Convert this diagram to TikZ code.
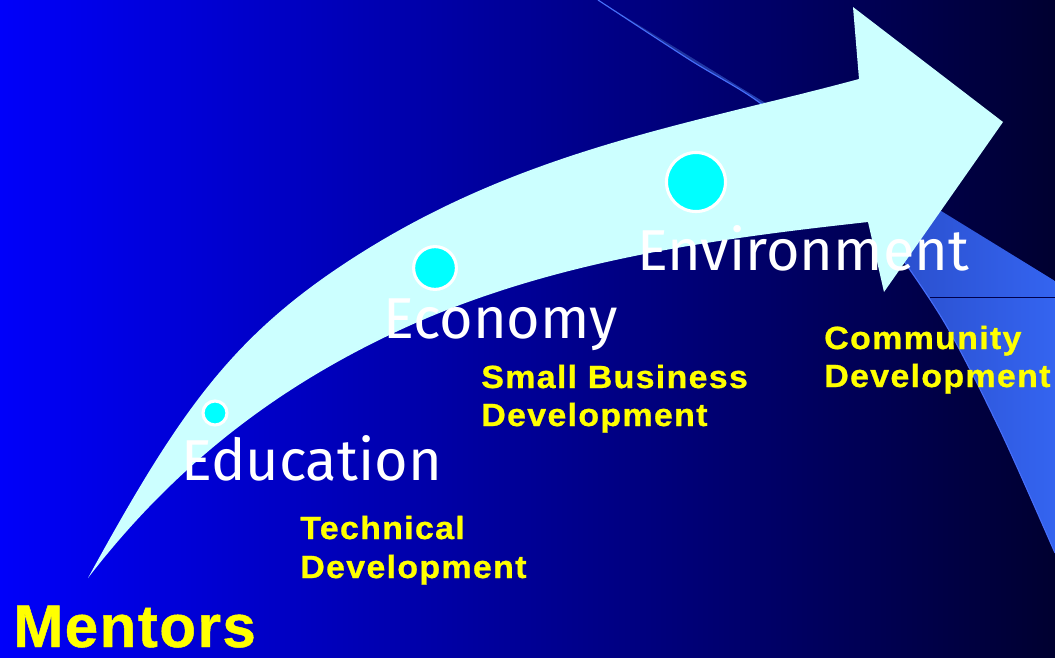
\documentclass[tikz,border=0pt]{standalone}
\usepackage{fontspec}
\setmainfont{Liberation Sans}
\newfontfamily\yfont[LetterSpace=4,FakeStretch=1.06,FakeBold=0.8]{Liberation Sans}
\newfontfamily\mfont[LetterSpace=2.5,FakeBold=0.8]{Liberation Sans}
\newfontfamily\thinfont{Fira Sans}
\definecolor{bgleft}{RGB}{0,0,250}
\definecolor{bgmid}{RGB}{0,0,165}
\definecolor{bgright}{RGB}{0,0,48}
\definecolor{bandA}{RGB}{25,40,140}
\definecolor{bandB}{RGB}{52,100,240}
\definecolor{bandedge}{RGB}{70,110,250}
\definecolor{arrowfill}{RGB}{204,255,255}
\definecolor{dotfill}{RGB}{0,255,255}
\definecolor{ytext}{RGB}{255,255,0}
\tikzset{
  dotnode/.style={circle, fill=dotfill, draw=white, line width=2.2pt, inner sep=0pt},
  whitelabel/.style={anchor=base west, inner sep=0pt, text=white, font=\thinfont\fontsize{41}{48}\selectfont},
  yellowlabel/.style={anchor=base west, inner sep=0pt, text=ytext, font=\yfont\bfseries\fontsize{22.8}{27}\selectfont},
  mentorlabel/.style={anchor=base west, inner sep=0pt, text=ytext, font=\mfont\bfseries\fontsize{42.7}{50}\selectfont},
}
\begin{document}
\begin{tikzpicture}[x=0.025cm, y=-0.025cm]
\useasboundingbox (0,0) rectangle (1055,658);
\shade[left color=bgleft, middle color=bgmid, right color=bgright] (0,0) rectangle (1055,658);
\begin{scope}
\clip (0,0) rectangle (1055,658);
% swoosh band
\shade[left color=bandA, right color=bandB]
  (598,0) -- (1055,281) -- (1055,553)
  -- plot[smooth] coordinates {(1055,553) (1000,430) (943,320) (873,218) (830,165) (760,103) (690,60) (598,0)} -- cycle;
\draw[bandedge, line width=0.8pt]
  plot[smooth] coordinates {(1055,553) (1000,430) (943,320) (873,218) (830,165) (760,103) (690,60) (598,0)};
\coordinate (lineA) at (930,297.5);
\coordinate (lineB) at (1055,297.5);
\draw[black!70!blue, line width=0.7pt] (lineA) -- (lineB);
% curved arrow
\coordinate (tail) at (88,578);
\coordinate (upmid) at (350,260);
\coordinate (upjoin) at (859,79);
\coordinate (headtop) at (853,7);
\coordinate (tip) at (1003,122);
\coordinate (headbot) at (884,292);
\coordinate (lowjoin) at (868,222);
\coordinate (lowmid) at (400,330);
\fill[arrowfill]
  (tail) .. controls (178,414) and (230,338) .. (upmid)
  .. controls (520,149.5) and (689,124.9) .. (upjoin)
  -- (headtop) -- (tip) -- (headbot) -- (lowjoin)
  .. controls (718,238.5) and (550,260.4) .. (lowmid)
  .. controls (300,376.4) and (188,448) .. (tail) -- cycle;
\end{scope}
% dots
\node[dotnode, minimum size=0.6cm] (d1) at (215,413) {};
\node[dotnode, minimum size=1.07cm] (d2) at (435,268) {};
\node[dotnode, minimum size=1.475cm] (d3) at (696,182) {};
% white labels
\node[whitelabel] (edu) at (181,480) {Education};
\node[whitelabel] (eco) at (383,338) {Economy};
\node[whitelabel] (env) at (637,270) {Environment};
% yellow labels
\node[yellowlabel] (tech1) at (300,539) {Technical};
\node[yellowlabel] (tech2) at (300,578) {Development};
\node[yellowlabel] (sb1) at (481,388) {Small Business};
\node[yellowlabel] (sb2) at (481,426) {Development};
\node[yellowlabel] (com1) at (824,349) {Community};
\node[yellowlabel] (com2) at (824,387) {Development};
\node[mentorlabel] (mentors) at (13,647) {Mentors};
\end{tikzpicture}
\end{document}
